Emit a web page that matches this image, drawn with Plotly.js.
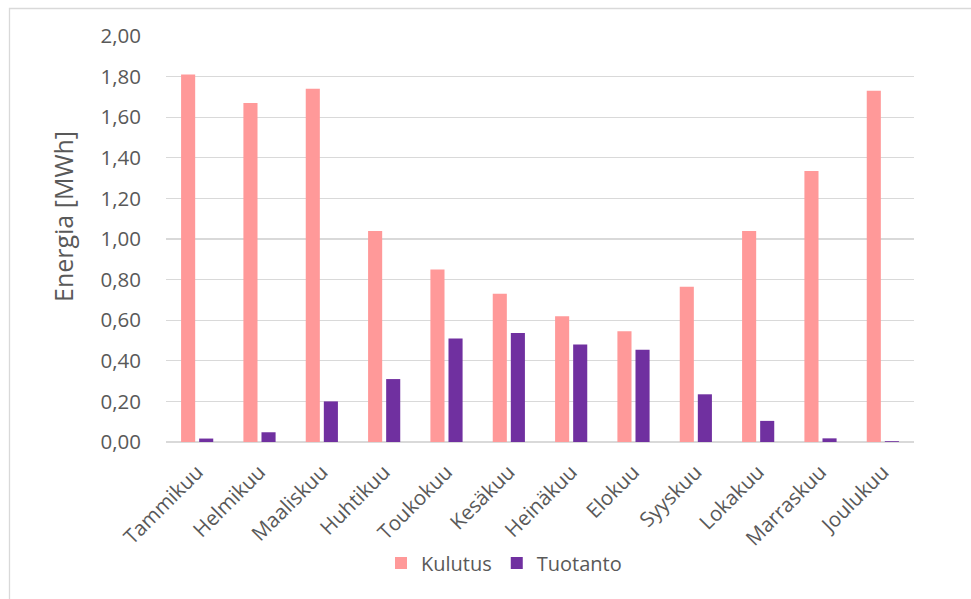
<!DOCTYPE html>
<html>
<head>
<meta charset="utf-8">
<script src="https://cdn.plot.ly/plotly-3.0.1.min.js"></script>
<style>
  html, body { margin: 0; padding: 0; background: #ffffff; }
  #chart { width: 971px; height: 599px; }
</style>
</head>
<body>
<div id="chart"></div>
<script>
// Monthly energy consumption and production (MWh)
const months = ["Tammikuu", "Helmikuu", "Maaliskuu", "Huhtikuu", "Toukokuu", "Kesäkuu",
                "Heinäkuu", "Elokuu", "Syyskuu", "Lokakuu", "Marraskuu", "Joulukuu"];
const kulutus = [1.81, 1.67, 1.74, 1.04, 0.85, 0.73, 0.62, 0.545, 0.765, 1.04, 1.335, 1.73];
const tuotanto = [0.017, 0.048, 0.20, 0.31, 0.51, 0.537, 0.48, 0.455, 0.235, 0.104, 0.018, 0.004];
const yTicks = [0, 0.2, 0.4, 0.6, 0.8, 1.0, 1.2, 1.4, 1.6, 1.8, 2.0];
const yTitle = "Energia [MWh]";

const textColor = "#595959";
const gridColor = "#d9d9d9";
const fontFamily = "'Open Sans', 'Liberation Sans', sans-serif";

const traces = [
  {
    type: "bar",
    name: "Kulutus",
    x: months,
    y: kulutus,
    marker: { color: "#FF9999" }
  },
  {
    type: "bar",
    name: "Tuotanto",
    x: months,
    y: tuotanto,
    marker: { color: "#7030A0" }
  }
];

// Plot area: 166..914 px horizontally, 36..442 px vertically
const W = 971, H = 599;
const m = { l: 166, r: 57, t: 36, b: 157 };
const pw = W - m.l - m.r, ph = H - m.t - m.b;
const px = v => (v - m.l) / pw;
const py = v => (H - m.b - v) / ph;

const layout = {
  width: W,
  height: H,
  margin: m,
  paper_bgcolor: "#ffffff",
  plot_bgcolor: "#ffffff",
  separators: ", ",
  font: { family: fontFamily, color: textColor, size: 20 },
  barmode: "group",
  bargap: 0.42,
  bargroupgap: 0.22,
  showlegend: true,
  legend: {
    orientation: "h",
    x: px(381),
    xanchor: "left",
    y: py(563),
    yanchor: "middle",
    font: { size: 20, color: textColor },
    itemwidth: 30,
    traceorder: "normal"
  },
  xaxis: {
    type: "category",
    tickangle: -45,
    tickfont: { size: 20.5, color: textColor },
    showgrid: false,
    showline: false,
    ticks: "outside",
    ticklen: 9,
    tickcolor: "rgba(0,0,0,0)",
    automargin: false
  },
  yaxis: {
    range: [0, 2],
    tickvals: yTicks,
    tickformat: ".2f",
    tickfont: { size: 20.5, color: textColor },
    showgrid: true,
    gridcolor: gridColor,
    gridwidth: 1.3,
    zeroline: true,
    zerolinecolor: gridColor,
    zerolinewidth: 1.3,
    showline: false,
    ticks: "outside",
    ticklen: 20,
    tickcolor: "rgba(0,0,0,0)",
    automargin: false
  },
  annotations: [
    {
      // vertical axis title
      text: yTitle,
      textangle: -90,
      xref: "paper",
      yref: "paper",
      x: px(63),
      y: py(217),
      xanchor: "center",
      yanchor: "middle",
      showarrow: false,
      font: { size: 25, color: textColor }
    }
  ],
  shapes: [
    {
      type: "rect",
      xref: "paper",
      yref: "paper",
      x0: px(9.5),
      x1: px(980),
      y0: py(610),
      y1: py(8.5),
      line: { color: gridColor, width: 1.3 },
      fillcolor: "rgba(0,0,0,0)",
      layer: "below"
    }
  ]
};

Plotly.newPlot("chart", traces, layout, { displayModeBar: false, staticPlot: true });
</script>
</body>
</html>
